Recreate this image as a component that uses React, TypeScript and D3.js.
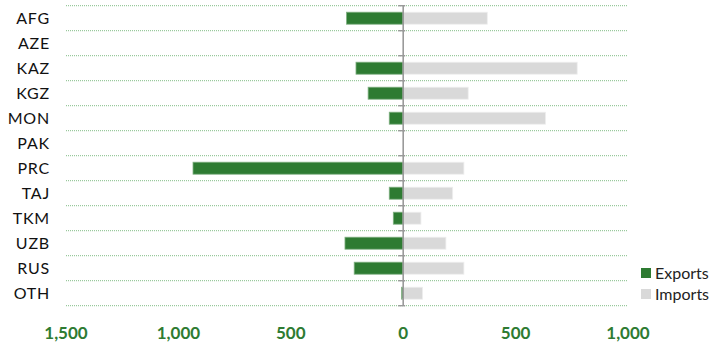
import * as d3 from 'd3'

const COUNTRIES = ['AFG', 'AZE', 'KAZ', 'KGZ', 'MON', 'PAK', 'PRC', 'TAJ', 'TKM', 'UZB', 'RUS', 'OTH']
const EXPORTS = [252, 0, 210, 156, 62, 0, 935, 62, 44, 259, 218, 7]
const IMPORTS = [374, 0, 774, 289, 633, 0, 270, 220, 79, 190, 270, 86]
const TICKS = [-1500, -1000, -500, 0, 500, 1000]

const W = 712
const H = 342
const GREEN = '#2e7b32'
const GREY = '#d9d9d9'
const FONT = 'Lato, "Open Sans", sans-serif'

export default function App() {
  const x = d3.scaleLinear().domain([-1500, 1000]).range([66, 628])
  const y = d3.scaleBand<string>().domain(COUNTRIES).range([5.7, 305.7])
  const bh = 12
  const fmt = d3.format(',')

  const lines = d3.range(COUNTRIES.length + 1).map(i => 5.7 + i * y.step())

  return (
    <svg width={W} height={H} style={{ position: 'absolute', left: 0, top: 0, background: '#fff' }}>
      {/* dotted gridlines */}
      {lines.map((ly, i) => (
        <line key={'g' + i} x1={66} x2={627} y1={ly} y2={ly}
          stroke="#3f9a45" strokeWidth={1} strokeDasharray="1 1" opacity={0.65} />
      ))}

      {/* bars */}
      {COUNTRIES.map((c, i) => {
        const cy = y(c)! + y.bandwidth() / 2
        return (
          <g key={c}>
            {EXPORTS[i] > 0 && (
              <rect x={x(-EXPORTS[i])} y={cy - bh / 2} width={x(0) - x(-EXPORTS[i])} height={bh}
                fill={GREEN} stroke="#7fb081" strokeWidth={0.8} />
            )}
            {IMPORTS[i] > 0 && (
              <rect x={x(0)} y={cy - bh / 2} width={x(IMPORTS[i]) - x(0)} height={bh}
                fill={GREY} stroke="#eeeeee" strokeWidth={0.8} />
            )}
            <text x={50} y={cy} dy="0.36em" textAnchor="end" fontFamily={FONT}
              fontSize={16} letterSpacing={0.8} fill="#111">{c}</text>
          </g>
        )
      })}

      {/* zero axis with cross ticks */}
      <line x1={x(0)} x2={x(0)} y1={5.7} y2={305.7} stroke="#9a9a9a" strokeWidth={1.6} />
      {lines.map((ly, i) => (
        <line key={'t' + i} x1={x(0) - 5} x2={x(0) + 2} y1={ly} y2={ly} stroke="#9a9a9a" strokeWidth={1.4} />
      ))}

      {/* x tick labels */}
      {TICKS.map(t => (
        <text key={t} x={x(t)} y={333} dy="0.36em" textAnchor="middle" fontFamily={FONT}
          fontSize={17} fontWeight="bold" fill={GREEN}>{fmt(Math.abs(t))}</text>
      ))}

      {/* legend */}
      <rect x={641} y={268} width={10} height={10} fill={GREEN} />
      <text x={655} y={273} dy="0.36em" fontFamily={FONT} fontSize={16} fill="#222">Exports</text>
      <rect x={641} y={289} width={10} height={10} fill={GREY} />
      <text x={655} y={294} dy="0.36em" fontFamily={FONT} fontSize={16} fill="#222">Imports</text>
    </svg>
  )
}
